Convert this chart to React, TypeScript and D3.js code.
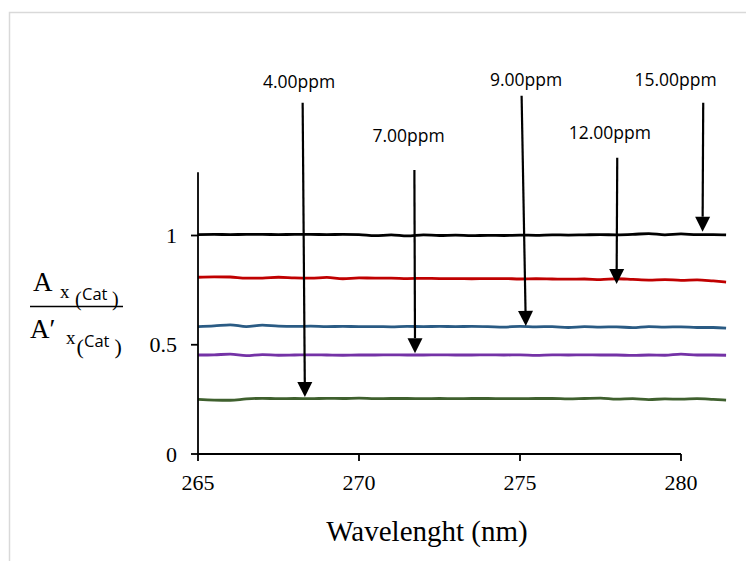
import React, { useEffect, useRef } from "react";
import * as d3 from "d3";

const W = 746;
const H = 561;

// wavelength grid (nm), lines run a bit past the 280 tick
const WAVELENGTHS = [
  265, 265.5, 266, 266.5, 267, 267.5, 268, 268.5, 269, 269.5, 270, 270.5,
  271, 271.5, 272, 272.5, 273, 273.5, 274, 274.5, 275, 275.5, 276, 276.5,
  277, 277.5, 278, 278.5, 279, 279.5, 280, 280.5, 281, 281.4,
];

const PPM15 = [
  1.004, 1.005, 1.004, 1.005, 1.005, 1.004, 1.005, 1.005, 1.004, 1.005, 1.004, 0.999,
  1.003, 0.998, 1.003, 1.0, 1.002, 0.999, 1.001, 1.0, 1.002, 1.001, 1.003, 1.002,
  1.003, 1.004, 1.003, 1.005, 1.009, 1.003, 1.007, 1.004, 1.004, 1.003,
];
const PPM12 = [
  0.809, 0.811, 0.81, 0.805, 0.805, 0.809, 0.806, 0.805, 0.808, 0.802, 0.806, 0.805,
  0.805, 0.803, 0.804, 0.803, 0.803, 0.802, 0.803, 0.803, 0.801, 0.802, 0.801, 0.8,
  0.801, 0.798, 0.802, 0.799, 0.796, 0.798, 0.795, 0.797, 0.792, 0.787,
];
const PPM9 = [
  0.583, 0.586, 0.591, 0.583, 0.59, 0.585, 0.584, 0.585, 0.583, 0.584, 0.583, 0.583,
  0.582, 0.584, 0.583, 0.584, 0.583, 0.584, 0.583, 0.581, 0.584, 0.582, 0.583, 0.579,
  0.583, 0.581, 0.582, 0.578, 0.583, 0.581, 0.582, 0.579, 0.579, 0.576,
];
const PPM7 = [
  0.453, 0.454, 0.457, 0.45, 0.455, 0.452, 0.453, 0.454, 0.453, 0.452, 0.453, 0.453,
  0.454, 0.453, 0.453, 0.454, 0.453, 0.453, 0.454, 0.453, 0.454, 0.451, 0.454, 0.453,
  0.454, 0.453, 0.453, 0.451, 0.453, 0.452, 0.457, 0.453, 0.453, 0.452,
];
const PPM4 = [
  0.25, 0.247, 0.246, 0.252, 0.255, 0.253, 0.254, 0.253, 0.255, 0.254, 0.256, 0.253,
  0.254, 0.254, 0.253, 0.254, 0.253, 0.254, 0.254, 0.253, 0.253, 0.254, 0.254, 0.252,
  0.254, 0.256, 0.251, 0.253, 0.249, 0.252, 0.251, 0.253, 0.25, 0.247,
];

const SERIES = [
  { name: "15.00ppm", color: "#000000", values: PPM15 },
  { name: "12.00ppm", color: "#c00000", values: PPM12 },
  { name: "9.00ppm", color: "#2a5b84", values: PPM9 },
  { name: "7.00ppm", color: "#7432a6", values: PPM7 },
  { name: "4.00ppm", color: "#3f602e", values: PPM4 },
];

const X_TICKS = [265, 270, 275, 280];
const Y_TICKS = [0, 0.5, 1];
const Y_TOP = 1.29;

// callout arrows: start (x0,y0) -> tip (x1,y1), label at (lx,ly), all in data units
const ARROWS = [
  { label: "4.00ppm", x0: 268.25, y0: 1.608, x1: 268.32, y1: 0.261, lx: 268.14, ly: 1.675 },
  { label: "7.00ppm", x0: 271.72, y0: 1.3, x1: 271.74, y1: 0.461, lx: 271.54, ly: 1.43 },
  { label: "9.00ppm", x0: 275.05, y0: 1.64, x1: 275.18, y1: 0.586, lx: 275.19, ly: 1.684 },
  { label: "12.00ppm", x0: 278.02, y0: 1.356, x1: 278.0, y1: 0.778, lx: 277.79, ly: 1.44 },
  { label: "15.00ppm", x0: 280.69, y0: 1.608, x1: 280.67, y1: 1.017, lx: 279.83, ly: 1.684 },
];

export default function App() {
  const svgRef = useRef<SVGSVGElement | null>(null);

  useEffect(() => {
    if (!svgRef.current) return;
    const svg = d3.select(svgRef.current);
    svg.selectAll("*").remove();

    const x = d3.scaleLinear().domain([265, 280]).range([198, 681]);
    const y = d3.scaleLinear().domain([0, 1]).range([454, 235.5]);

    // outer frame
    svg.append("rect")
      .attr("x", 9.5).attr("y", 12.5)
      .attr("width", W).attr("height", H)
      .attr("fill", "none").attr("stroke", "#d9d9d9").attr("stroke-width", 1.5);

    // --- Series ---
    const line = d3.line<number>()
      .x((_, i) => x(WAVELENGTHS[i]))
      .y(d => y(d))
      .curve(d3.curveMonotoneX);
    svg.append("g").selectAll("path").data(SERIES).enter().append("path")
      .attr("d", d => line(d.values))
      .attr("fill", "none")
      .attr("stroke", d => d.color)
      .attr("stroke-width", 2.8)
      .attr("stroke-linejoin", "round");

    // --- Axes ---
    const axes = svg.append("g").attr("stroke", "#000").attr("stroke-width", 1.8);
    axes.append("line")
      .attr("x1", x(265)).attr("x2", x(265))
      .attr("y1", y(0)).attr("y2", y(Y_TOP));
    axes.append("line")
      .attr("x1", x(265)).attr("x2", x(280))
      .attr("y1", y(0)).attr("y2", y(0));
    axes.selectAll("line.yt").data(Y_TICKS).enter().append("line").attr("class", "yt")
      .attr("x1", x(265) - 7).attr("x2", x(265))
      .attr("y1", d => y(d)).attr("y2", d => y(d));
    axes.selectAll("line.xt").data(X_TICKS).enter().append("line").attr("class", "xt")
      .attr("x1", d => x(d)).attr("x2", d => x(d))
      .attr("y1", y(0)).attr("y2", y(0) + 7);

    const serif = "'Liberation Serif', 'Times New Roman', serif";
    svg.append("g").selectAll("text").data(Y_TICKS).enter().append("text")
      .attr("x", 177).attr("y", d => y(d) + 7.5)
      .attr("text-anchor", "end")
      .attr("font-family", serif).attr("font-size", 22)
      .text(d => String(d));
    svg.append("g").selectAll("text").data(X_TICKS).enter().append("text")
      .attr("x", d => x(d)).attr("y", 490)
      .attr("text-anchor", "middle")
      .attr("font-family", serif).attr("font-size", 22)
      .text(d => String(d));

    svg.append("text")
      .attr("x", 427).attr("y", 541)
      .attr("text-anchor", "middle")
      .attr("font-family", serif).attr("font-size", 29)
      .text("Wavelenght (nm)");

    // --- Y label: A x(Cat) / A' x(Cat) ---
    const yl = svg.append("g").attr("font-family", serif).attr("fill", "#000");
    const sans = "'Open Sans', sans-serif";
    const frac = [
      { a: "A", ax: 33, base: 291, xx: 60, xb: 298, px: 75, pb: 306, cx: 82, cb: 300, qx: 112, ps: 20 },
      { a: "A\u2032", ax: 30, base: 338, xx: 66, xb: 344, px: 76.5, pb: 354, cx: 84, cb: 347, qx: 114.5, ps: 22 },
    ];
    frac.forEach(f => {
      yl.append("text").attr("x", f.ax).attr("y", f.base).attr("font-size", 27).text(f.a);
      yl.append("text").attr("x", f.xx).attr("y", f.xb).attr("font-size", 19).text("x");
      yl.append("text").attr("x", f.px).attr("y", f.pb).attr("font-size", f.ps).text("(");
      yl.append("text").attr("x", f.cx).attr("y", f.cb).attr("font-size", 16.5)
        .attr("font-family", sans).text("Cat");
      yl.append("text").attr("x", f.qx).attr("y", f.pb).attr("font-size", f.ps).text(")");
    });
    yl.append("line")
      .attr("x1", 30).attr("x2", 123).attr("y1", 306.5).attr("y2", 306.5)
      .attr("stroke", "#000").attr("stroke-width", 1.5);

    // --- Arrows ---
    const HEAD_L = 15, HEAD_W = 15;
    const ag = svg.append("g");
    ARROWS.forEach(a => {
      const sx = x(a.x0), sy = y(a.y0), tx = x(a.x1), ty = y(a.y1);
      const len = Math.hypot(tx - sx, ty - sy);
      const ux = (tx - sx) / len, uy = (ty - sy) / len;
      const bx = tx - ux * HEAD_L, by = ty - uy * HEAD_L;
      ag.append("line")
        .attr("x1", sx).attr("y1", sy).attr("x2", bx).attr("y2", by)
        .attr("stroke", "#000").attr("stroke-width", 2.2);
      const px = -uy * HEAD_W / 2, py = ux * HEAD_W / 2;
      ag.append("path")
        .attr("d", `M${tx},${ty}L${bx + px},${by + py}L${bx - px},${by - py}Z`)
        .attr("fill", "#000");
      ag.append("text")
        .attr("x", x(a.lx)).attr("y", y(a.ly))
        .attr("text-anchor", "middle")
        .attr("font-family", sans).attr("font-size", 17.5)
        .attr("fill", "#000")
        .text(a.label);
    });
  }, []);

  return (
    <svg
      ref={svgRef}
      width={W}
      height={H}
      style={{ position: "absolute", left: 0, top: 0, background: "#fff" }}
    />
  );
}
